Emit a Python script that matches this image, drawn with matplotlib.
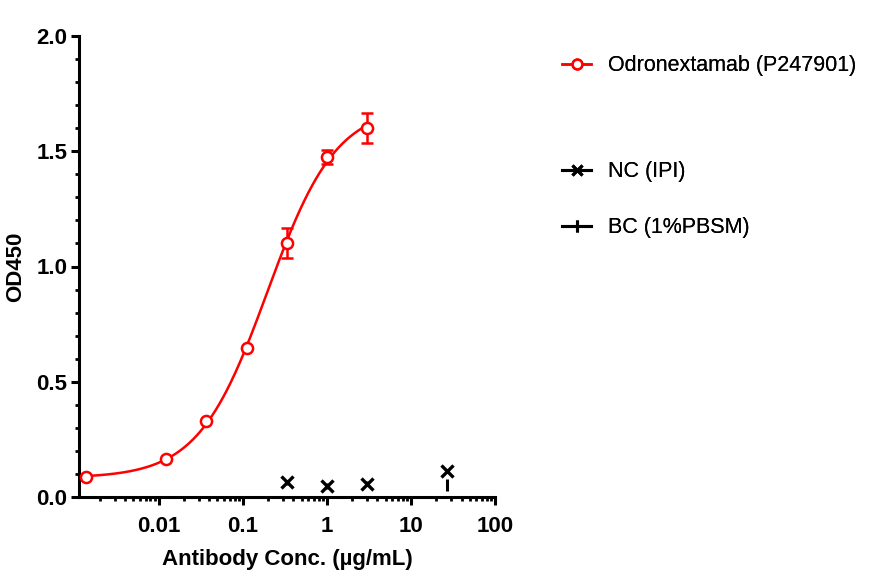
import numpy as np
import matplotlib
matplotlib.use("Agg")
import matplotlib.pyplot as plt
from matplotlib.ticker import LogLocator, MultipleLocator, FixedLocator, FixedFormatter
from matplotlib.lines import Line2D

plt.rcParams['font.family'] = ['Liberation Sans', 'DejaVu Sans']

# ---- data ----
conc = [0.00137, 0.0123, 0.037, 0.111, 0.333, 1.0, 3.0]
od_sample = [0.085, 0.164, 0.330, 0.647, 1.100, 1.475, 1.600]
err_sample = [0.0, 0.0, 0.0, 0.0, 0.065, 0.03, 0.065]

nc_conc = [0.333, 1.0, 3.0, 27.0]
nc_od = [0.063, 0.048, 0.058, 0.112]
nc_err = [0.012, 0.012, 0.012, 0.0]

bc_conc = [27.0]
bc_od = [0.050]

xtick_vals = [0.01, 0.1, 1, 10, 100]
xtick_labels = ['0.01', '0.1', '1', '10', '100']
ytick_vals = [0.0, 0.5, 1.0, 1.5, 2.0]
ytick_labels = ['0.0', '0.5', '1.0', '1.5', '2.0']

labels = ['Odronextamab (P247901)', 'NC (IPI)', 'BC (1%PBSM)']

# ---- 4PL fit (Gauss-Newton) ----
lx = np.log10(np.array(conc))
yy = np.array(od_sample)

def f4(p, x):
    b, t, le, h = p
    return b + (t - b) / (1 + 10 ** ((le - x) * h))

p = np.array([0.08, 1.7, np.log10(0.2), 1.2])
for _ in range(200):
    r = yy - f4(p, lx)
    J = np.zeros((len(lx), 4))
    eps = 1e-6
    for k in range(4):
        dp = np.zeros(4); dp[k] = eps
        J[:, k] = (f4(p + dp, lx) - f4(p, lx)) / eps
    step, *_ = np.linalg.lstsq(J.T @ J + 1e-3 * np.eye(4), J.T @ r, rcond=None)
    p = p + step
xs = np.linspace(lx.min(), lx.max(), 300)
ys = f4(p, xs)

red = '#FF0000'

fig = plt.figure(figsize=(8.71, 5.86), dpi=100)
ax = fig.add_axes([79/871, 1 - 497/586, (495 - 79)/871, (497 - 36)/586])

ax.plot(10 ** xs, ys, color=red, lw=1.8, zorder=3)
ax.errorbar(conc, od_sample, yerr=err_sample, fmt='o', mfc='white', mec=red, ecolor=red,
            ms=8, mew=1.8, elinewidth=1.8, capsize=4, capthick=1.8, zorder=4)
ax.errorbar(nc_conc, nc_od, yerr=nc_err, fmt='x', color='black', ms=8, mew=2.4,
            elinewidth=1.8, capsize=0, zorder=4)
ax.plot(bc_conc, bc_od, linestyle='none', marker='|', color='black', ms=8, mew=2.2, zorder=4)

ax.set_xscale('log')
ax.set_xlim(0.00113, 100)
ax.set_ylim(0, 2.0)

ax.xaxis.set_major_locator(FixedLocator(xtick_vals))
ax.xaxis.set_major_formatter(FixedFormatter(xtick_labels))
ax.xaxis.set_minor_locator(LogLocator(base=10, subs=np.arange(2, 10), numticks=20))
ax.yaxis.set_major_locator(FixedLocator(ytick_vals))
ax.yaxis.set_major_formatter(FixedFormatter(ytick_labels))
ax.yaxis.set_minor_locator(MultipleLocator(0.1))

for s in ['top', 'right']:
    ax.spines[s].set_visible(False)
for s in ['left', 'bottom']:
    ax.spines[s].set_linewidth(2.2)

ax.tick_params(axis='x', which='major', length=6, width=2.2, labelsize=16, pad=8)
ax.tick_params(axis='y', which='major', length=5.5, width=2.2, labelsize=16, pad=3)
ax.tick_params(axis='both', which='minor', length=3.2, width=2.0)
for lab in ax.get_xticklabels() + ax.get_yticklabels():
    lab.set_fontweight('bold')

ax.set_xlabel('Antibody Conc. (µg/mL)', fontsize=16, fontweight='bold', labelpad=8)
ax.set_ylabel('OD450', fontsize=16, fontweight='bold', labelpad=7)

# legends (separate entries, GraphPad-style spacing)
h1 = Line2D([], [], color=red, marker='o', mfc='white', mec=red, ms=7, mew=1.8, lw=1.8)
h2 = Line2D([], [], color='black', marker='x', ms=7, mew=2.2, lw=2.2)
h3 = Line2D([], [], color='black', marker='|', ms=8, mew=2.2, lw=2.2)
ys_leg = [66, 172, 228]
for h, lab, yp in zip([h1, h2, h3], labels, ys_leg):
    lg = fig.legend([h], [lab], loc='center left', bbox_to_anchor=(558/871, 1 - yp/586),
                    frameon=False, fontsize=15.5, handlelength=1.35, handletextpad=0.75,
                    borderaxespad=0, borderpad=0.2)
    fig.add_artist(lg)

fig.savefig('out.png', dpi=100)
